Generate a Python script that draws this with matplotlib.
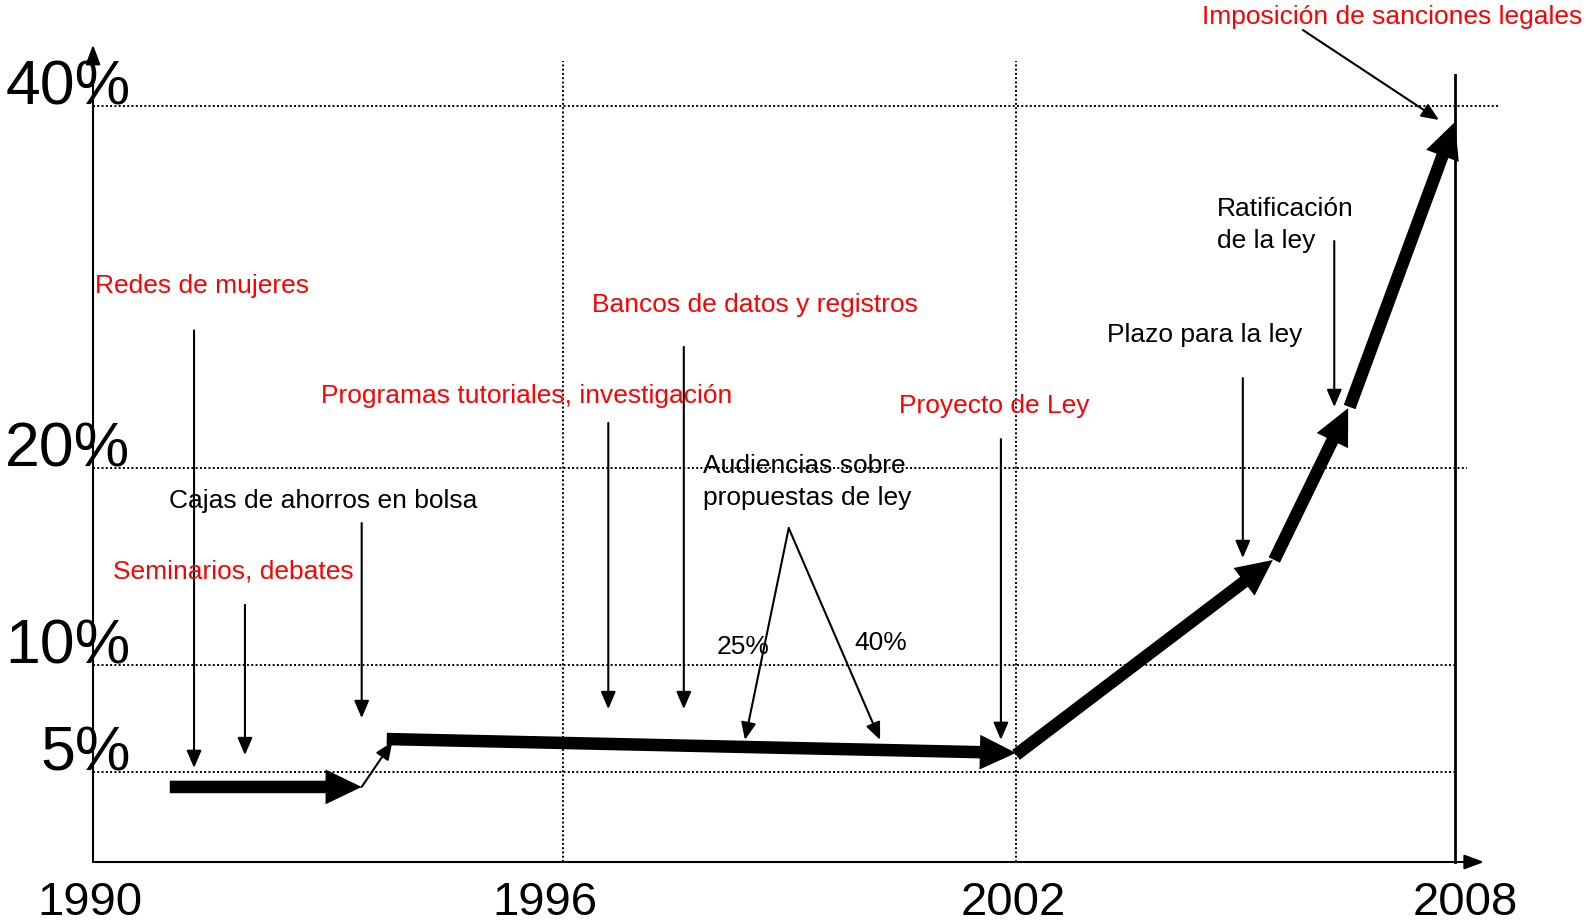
import numpy as np
import matplotlib
matplotlib.use("Agg")
import matplotlib.pyplot as plt
import matplotlib.transforms as mtransforms
from matplotlib.patches import FancyArrowPatch

plt.rcParams['font.family'] = ['Liberation Sans', 'DejaVu Sans']

# tick labels
year_ticks = [1990, 1996, 2002, 2008]
year_labels = ["1990", "1996", "2002", "2008"]
pct_ticks = [5, 10, 20, 40]
pct_labels = ["5%", "10%", "20%", "40%"]

# main trend: thick arrows (start year, start %, end year, end %)
trend_x0 = [1990.98, 1993.75, 2002.0, 2005.53, 2006.56]
trend_y0 = [4.17, 6.54, 5.80, 15.33, 23.37]
trend_x1 = [1993.43, 2002.0, 2005.51, 2006.54, 2008.0]
trend_y1 = [4.17, 5.89, 15.33, 23.31, 39.12]

# thin link between the first two trend arrows
link_x = [1993.43, 1993.82]
link_y = [4.17, 6.40]

# events: label, colour, arrow from (x0, y0) to (x1, y1)
event_labels = ["Redes de mujeres", "Seminarios, debates", "Cajas de ahorros en bolsa",
                "Programas tutoriales, investigación", "Bancos de datos y registros",
                "Proyecto de Ley", "Plazo para la ley", "Ratificación\nde la ley"]
event_colors = ["red", "red", "black", "red", "red", "red", "black", "black"]
event_x = [1991.29, 1991.94, 1993.43, 1996.60, 1997.60, 2001.80, 2005.10, 2006.35]
event_y0 = [27.6, 13.05, 17.21, 22.49, 26.69, 21.60, 24.97, 32.54]
event_y1 = [5.19, 5.79, 7.52, 7.94, 7.94, 6.50, 15.43, 23.37]

# hearings on bills: two arrows from one point
hearing_x0, hearing_y0 = 1998.99, 16.95
hearing_x1 = [1998.41, 2000.20]
hearing_y1 = [6.50, 6.50]
hearing_shares = ["25%", "40%"]

# legal sanctions
sanction_x = [2005.92, 2007.78]
sanction_y = [44.2, 39.23]

# the original axes are not linear: pixel position of each reference value
year_ref = [1980, 1990, 1996, 2002, 2008, 2020]
year_px = [-690, 93, 563, 1016, 1455, 2333]
pct_ref = [-20, 0, 5, 10, 20, 40, 80]
pct_px = [-360, 0, 90, 197, 394, 756, 1480]

W, H = 1588, 923
fig = plt.figure(figsize=(W / 100, H / 100), dpi=100)
ax = fig.add_axes([93 / W, (H - 862) / H, (1455 - 93) / W, (862 - 106) / H])

ax.set_xscale('function', functions=(lambda v: np.interp(v, year_ref, year_px),
                                     lambda p: np.interp(p, year_px, year_ref)))
ax.set_yscale('function', functions=(lambda v: np.interp(v, pct_ref, pct_px),
                                     lambda p: np.interp(p, pct_px, pct_ref)))
ax.set_xlim(1990, 2008)
ax.set_ylim(0, 40)
for s in ax.spines.values():
    s.set_visible(False)

ax.set_xticks(year_ticks, labels=year_labels, fontsize=34)
ax.tick_params(axis='x', length=0, pad=14)
# the year labels are not quite centred on their ticks in the original
for t, dx in zip(ax.get_xticklabels(), [-3, -18, -3, 10]):
    t.set_transform(t.get_transform() + mtransforms.ScaledTranslation(dx / 100, 0, fig.dpi_scale_trans))
ax.set_yticks([])
for v, lbl in zip(pct_ticks, pct_labels):
    ax.annotate(lbl, xy=(0, v), xycoords=('axes fraction', 'data'), xytext=(27, 13),
                textcoords='offset points', ha='right', va='center', fontsize=45)

# dotted grid
dots = dict(color='black', lw=1.4, ls=(0, (1, 1.2)), clip_on=False, zorder=1)
for v, xmax in zip(pct_ticks, [1.0, 1.0, 1.0088, 1.033]):
    ax.axhline(v, xmin=0, xmax=xmax, **dots)
for yr in [1996, 2002]:
    ax.axvline(yr, ymin=0, ymax=1.0595, **dots)

# axes with arrow heads and the 2008 line
ax.axvline(2008, ymin=0, ymax=1.041, color='black', lw=2, clip_on=False)
ax.annotate('', xy=(0, 1.081), xytext=(0, 0), xycoords='axes fraction',
            arrowprops=dict(arrowstyle='-|>,head_length=1.2,head_width=0.45',
                            mutation_scale=10, lw=1.5, color='black',
                            shrinkA=0, shrinkB=0))
ax.annotate('', xy=(1.0213, 0), xytext=(0, 0), xycoords='axes fraction',
            arrowprops=dict(arrowstyle='-|>,head_length=1.2,head_width=0.45',
                            mutation_scale=10, lw=1.5, color='black',
                            shrinkA=0, shrinkB=0))


def thin_arrow(p0, p1):
    ax.add_patch(FancyArrowPatch(p0, p1, arrowstyle='-|>,head_length=1.05,head_width=0.45',
                                 mutation_scale=10, lw=1.5, color='black',
                                 shrinkA=0, shrinkB=0, clip_on=False, zorder=3))


# main trend
for x0, y0, x1, y1 in zip(trend_x0, trend_y0, trend_x1, trend_y1):
    ax.add_patch(FancyArrowPatch((x0, y0), (x1, y1),
                                 arrowstyle='simple,head_length=2.6,head_width=2.5,tail_width=0.9',
                                 mutation_scale=10, lw=0, color='black',
                                 shrinkA=0, shrinkB=0, clip_on=False, zorder=4))
thin_arrow((link_x[0], link_y[0]), (link_x[1], link_y[1]))

for x, y0, y1 in zip(event_x, event_y0, event_y1):
    thin_arrow((x, y0), (x, y1))
for x1, y1 in zip(hearing_x1, hearing_y1):
    thin_arrow((hearing_x0, hearing_y0), (x1, y1))
thin_arrow((sanction_x[0], sanction_y[0]), (sanction_x[1], sanction_y[1]))


def label(px, py, s, color='black'):
    fig.text(px / W, 1 - py / H, s, color=color, fontsize=19, ha='left', va='center',
             linespacing=1.4)


label_pos = [(95, 286), (113, 572), (169, 501), (321, 396), (592, 305),
             (899, 406), (1107, 335), (1217, 225)]
for (px, py), s, c in zip(label_pos, event_labels, event_colors):
    label(px, py, s, c)
label(703, 482, "Audiencias sobre\npropuestas de ley")
label(717, 647, hearing_shares[0])
label(854, 643, hearing_shares[1])
label(1202, 17, "Imposición de sanciones legales", 'red')

fig.savefig("out.png", dpi=100)
